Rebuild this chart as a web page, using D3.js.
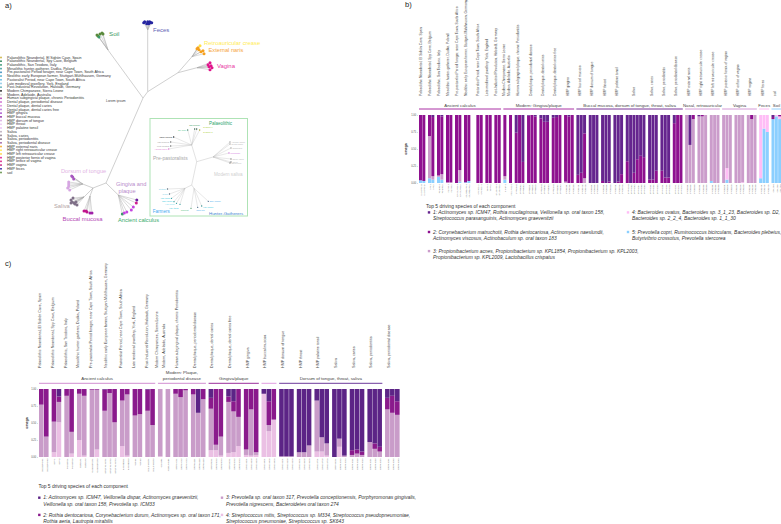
<!DOCTYPE html>
<html><head><meta charset="utf-8">
<script src="https://cdn.jsdelivr.net/npm/d3@7"></script>
<style>html,body{margin:0;background:#fff}svg{display:block;font-family:"Liberation Sans",Arial,sans-serif}</style>
</head><body><svg id="c" width="781" height="524"></svg>
<script>
// ---------- panel a: legend ----------
const sampleNames = ["Palaeolithic Neandertal, El Sidrón Cave, Spain","Palaeolithic Neandertal, Spy Cave, Belgium","Palaeolithic, San Teodoro, Italy","Mesolithic hunter-gatherer, Dudka, Poland","Pre-pastoralist Period forager, near Cape Town, South Africa","Neolithic early European farmer, Stuttgart-Mühlhausen, Germany","Pastoralist Period, near Cape Town, South Africa","Late medieval jewellery, York, England","Post-Industrial Revolution, Halstadt, Germany","Modern Chimpanzee, Sierra Leone","Modern, Adelaide, Australia","Human subgingival plaque, chronic Periodontitis","Dental plaque, periodontal disease","Dental plaque, dental caries","Dental plaque, dental caries free","HMP gingiva","HMP buccal mucosa","HMP dorsum of tongue","HMP throat","HMP palatine tonsil","Saliva","Saliva, caries","Saliva, periodontitis","Saliva, periodontal disease","HMP external naris","HMP right retroauricular crease","HMP left retroauricular crease","HMP posterior fornix of vagina","HMP orifice of vagina","HMP vagina","HMP feces","soil"];
const sampleColors = ["#c9b03a","#1f7a4d","#2a8f6a","#3a9a9a","#2f86b8","#45a9c9","#5cb8e0","#88c8e8","#5aa8b0","#111111","#bdbdbd","#a83aa8","#c95fc9","#d98ad9","#b66fd6","#a445c9","#8a1f9a","#d7a6e0","#ecc9ee","#e8b8f0","#b8a8b8","#8c7c8c","#7a6a7a","#9a5aa0","#f5a623","#ffe84d","#ffd23a","#e0158c","#d81b80","#c01478","#2a2aa0","#5a8a3c"];
const mainLabels = [["Soil","#3f9a63"],["Feces","#5f5fb5"],["Retroauricular crease","#ffec55"],["External naris","#f6a53a"],["Vagina","#e8359f"],["Dorsum of tongue","#e2b4e4"],["Gingiva and","#b88ccb"],["plaque","#b88ccb"],["Saliva","#b3a3a3"],["Buccal mucosa","#b548b5"],["Ancient calculus","#3bab6b"],["Lorem ipsum","#444444"]];
const insetLabels = [["Palaeolithic","#2aa56a"],["Pre-pastoralists","#a8a8a8"],["Modern saliva","#d0d0d0"],["Farmers","#45aaf0"],["Hunter-Gatherers","#3a7fd0"]];
// tip: [dx, dy, colour index in tipColors]
const tipColors = ["#5a8a3c","#2424a0","#f5a01e","#ffe040","#e0158c","#a857c0","#d6a6e2","#7f7088","#c0148c","#a020a8","#6b1fa0","#d02090","#c445e0","#3a9a6a"];
const soilTips = [[-10,-14,0],[-8,-16,0],[-6,-17,0],[-5,-16,0],[-11,-15,0],[-9,-13,13]];
const fecesTips = [[-4,-7,1],[-3,-8,1],[-1,-6,1],[0,-8,1],[1,-6,1],[2,-8,1],[3,-7,1],[4,-7,1]];
const narisTips = [[6,-9,2],[8,-11,3],[11,-6,2],[9,-5,2],[12,-3,2],[7,-7,2],[5,-8,2]];
const vaginaTips = [[11,-3,4],[13,-5,4],[14,-2,4],[15,0,4],[13,2,4],[12,-1,4]];
const dorsumTips = [[-10,-7,5],[-11,-8,5],[-9,-5,5],[-14,-2,6],[-14,0,6],[-14,2,6],[-15,4,6],[-13,6,6]];
const salivaTips = [[-13,3,7],[-12,5,7],[-10,6,7],[-9,7,7],[-7,8,7],[-11,1,7],[-13,6,7],[-8,5,7]];
const buccalTips = [[-6,15,8],[-3,16,8],[0,17,9],[2,17,9],[-4,15,8]];
const gingivaTips = [[18.5,5,10],[18,8,11],[15,12,12],[13,15,12],[8.5,17,12],[4,19,13],[6,18,12]];
// inset tips: [dx, dy, dot colour, label colour, label nudge]
const modernTips = [[17,-15,"#999999","#b5b5b5"],[17,-13,"#999999","#b5b5b5"],[18,-9,"#999999","#b5b5b5"],[16,-4,"#d06fe0","#d06fe0"],[18,2,"#777777","#b5b5b5"],[18,5,"#777777","#b5b5b5"],[17,6,"#777777","#b5b5b5"]];
const recentTips = [[-18,-8,"#111111","#222222"],[-21,-3,"#666666","#999999"],[-21,1,"#666666","#999999"],[-23,4,"#e070d0","#e070d0"]];
const palaeoTips = [[-4,-15,"#3a7a5a","#45c08a"],[3,-16,"#1f4f3a","#2f9a5a",[-7,-4]],[5,-16,"#1f4f3a","#a8cc30",[5,-1.5]],[8,-15,"#a0a020","#a8cc30",[2,2.6]]];
const farmerTips = [[-17.5,0.7,"#556677","#7fd0e8"],[-15.5,5.7,"#556677","#7fd0e8"],[-13.5,10,"#2a9a9a","#30c8e0"],[-11,13.4,"#2a9a9a","#30c8e0"],[-8.5,15,"#2a9a9a","#80e0f0",[0,1]],[-5,16,"#2a9a9a","#30c8e0",[0,4]]];
const hunterTips = [[-3,20,"#4a9a6a","#55c080",[-1,2.5]],[3.7,19,"#446688","#44aaee",[-3,3]],[7.7,17.7,"#2a8a8a","#30c8e0",[0,1.5]],[14.3,13,"#446688","#44aaee"]];
const tipNames = {modern:["Adelaide plaque","Dental plaque","Subgingival","Periodontal","Saliva, caries","Saliva","Saliva perio"],recent:["USMP calculus","Late medieval","Post-Industrial","Adelaide saliva"],palaeo:["Spy Cave","San Teodoro","El Sidrón 1","El Sidrón 2"],farmer:["Stuttgart","Dudka","Late Italian","Early farmer","Late farmer","Late Italian"],hunter:["Oakhurst","Ochre site","Late forager","Early forager"]};

// ---------- panel b ----------
const bSizes = [2,2,2,2,2,2,3,2,2,1,1,3,3,3,3,3,3,3,3,3,6,3,3,3,3,3,3,3,3,3,3,3];
const bPrefix = ["ELSIDRON","SPY","ROMITO","DUDKA","OAKHURST","STUTTGART","KASTEEL","YORK","HALSTADT","CHIMP","ADELAIDE","SRR1001","SRR6612","SRR2901","SRR3301","SRS0130","SRS0140","SRS0150","SRS0160","SRS0170","ERR4101","ERR4102","ERR4103","ERR4104","SRS0180","SRS0190","SRS0200","SRS0210","SRS0220","SRS0230","SRS0240","SOIL00"];
const bHeaders = [["Ancient calculus",0,8,"#a0189a"],["Modern: Gingiva/plaque",9,15,"#a0189a"],["Buccal mucosa, dorsum of tongue, throat, saliva",16,23,"#6a1b8c"],["Nasal, retroauricular",24,26,"#cf8ed3"],["Vagina",27,29,"#cf8ed3"],["Feces",30,30,"#ffb5f5"],["Soil",31,31,"#88ccff"]];
const bValues = [
[0,.96,0,0,.04],[0,.97,0,0,.03],
[0,.31,.62,0,.07],[.03,.87,.05,0,.05],
[0,.89,.02,0,.09],[.02,.85,.08,0,.05],
[0,.99,.01,0,0],[0,.99,.01,0,0],
[0,1,0,0,0],[0,.81,.17,0,.02],
[0,.99,0,0,.01],[0,.97,0,0,.03],
null,[0,1,0,0,0],[0,1,0,0,0],
[0,1,0,0,0],[0,1,0,0,0],
[0,1,0,0,0],[0,1,0,0,0],
[0,.9,.05,0,.05],
[0,1,0,0,0],
[.26,.74,0,0,0],[0,1,0,0,0],[.69,.31,0,0,0],
[.01,.99,0,0,0],[0,1,0,0,0],[.02,.98,0,0,0],
[.05,.95,0,0,0],[.1,.9,0,0,0],[.1,.9,0,0,0],
[.04,.96,0,0,0],[.03,.97,0,0,0],[0,1,0,0,0],
[0,.98,.02,0,0],[.02,.98,0,0,0],[0,1,0,0,0],
[.88,.12,0,0,0],[.85,.15,0,0,0],[.27,.66,.07,0,0],
[1,0,0,0,0],[1,0,0,0,0],[1,0,0,0,0],
[.97,.03,0,0,0],[1,0,0,0,0],[.98,.02,0,0,0],
[1,0,0,0,0],[.98,.02,0,0,0],[.87,.13,0,0,0],
[.68,.32,0,0,0],[1,0,0,0,0],[.85,.15,0,0,0],[.65,.35,0,0,0],[.6,.4,0,0,0],[.62,.38,0,0,0],
[.95,.05,0,0,0],[.95,.05,0,0,0],[.82,.18,0,0,0],
[.82,.18,0,0,0],[.92,.08,0,0,0],[.92,.08,0,0,0],
[.12,.88,0,0,0],[0,1,0,0,0],[0,1,0,0,0],
[0,0,1,0,0],[.44,0,.56,0,0],[0,.06,.94,0,0],
[.02,0,.98,0,0],[0,.02,.98,0,0],[0,0,1,0,0],
[0,0,.97,0,.03],[0,0,1,0,0],[0,0,1,0,0],
[0,0,1,0,0],[0,0,.78,.17,.05],[0,0,1,0,0],
[0,0,1,0,0],[0,0,1,0,0],[0,0,.99,.01,0],
[0,0,1,0,0],[0,.06,.94,0,0],[0,0,1,0,0],
[0,0,0,.93,.07],[0,0,0,.2,.8],[0,0,0,.25,.75],
[.03,.03,0,0,.94],[0,0,0,.02,.98],[0,.02,0,.04,.94]];
const bColors = ["#65258e","#8e108f","#cb9ccb","#ffbdf6","#8bcfff"];
const bLegendTitle = "Top 5 driving species of each component";
const bLegend = [
 [["1: Actinomyces sp. ICM47, Rothia mucilaginosa, Veillonella sp. oral taxon 158,","Streptococcus parasanguinis, Actinomyces graevenitzii"],0],
 [["2: Corynebacterium matruchotii, Rothia dentocariosa, Actinomyces naeslundii,","Actinomyces viscosus, Actinobaculum sp. oral taxon 183"],1],
 [["3: Propionibacterium acnes, Propionibacterium sp. KPL1854, Propionibacterium sp. KPL2003,","Propionibacterium sp. KPL2009, Lactobacillus crispatus"],2],
 [["4: Bacteroides ovatus, Bacteroides sp. 3_1_23, Bacteroides sp. D2,","Bacteroides sp. 2_2_4, Bacteroides sp. 1_1_30"],3],
 [["5: Prevotella copri, Ruminococcus bicirculans, Bacteroides plebeius,","Butyrivibrio crossotus, Prevotella stercorea"],4]];

// ---------- panel c ----------
const cSizes = [2,2,2,2,2,3,2,2,2,1,1,3,3,3,3,3,3,3,3,3,3,3,3,3];
const cPrefix = ["ELSIDRON","SPY","ROMITO","DUDKA","OAKHURST","STUTTGART","KASTEEL","YORK","HALSTADT","CHIMP","ADELAIDE","SRR1001","SRR6612","SRR2901","SRR3301","SRS0130","SRS0140","SRS0150","SRS0160","SRS0170","ERR4101","ERR4102","ERR4103","ERR4104"];
const cHeaders = [[["Ancient calculus"],0,8,"#cc80cc"],[["Modern: Plaque,","periodontal disease"],9,12,"#cc80cc"],[["Gingiva/plaque"],13,15,"#8e1590"],[[""],16,16,"#dc90dc"],[["Dorsum of tongue, throat, saliva"],17,22,"#5c2490"]];
const cValues = [
[0,.23,.77,0],[0,.70,.30,0],
[0,.48,.45,.07],[.11,.08,.30,.51],
[0,.10,.90,0],[0,.63,.32,.05],
[0,.07,.68,.25],[0,.10,.88,.02],
[0,.01,.99,0],[0,.01,.88,.11],
[.01,.31,.68,0],[0,.06,.94,0],[0,.49,.51,0],
[0,.17,.67,.16],[0,.08,.90,.02],
[0,.39,.61,0],[0,.37,.63,0],
[.01,.31,.68,0],[0,.53,.47,0],
[0,0,.99,.01],
[0,0,1,0],
[0,.07,.93,0],[0,.12,.88,0],[0,.02,.98,0],
[0,.08,.92,0],[.35,0,.65,0],[0,.15,.85,0],
[.13,.16,.61,.10],[0,.82,.08,.10],[0,.70,.28,.02],
[.11,.08,.75,.06],[.18,.15,.60,.07],[0,.41,.43,.16],
[0,.89,.08,.03],[0,.30,.68,.02],[0,.93,.04,.03],
[.07,0,0,.93],[.18,.35,.09,.38],[0,.45,0,.55],
[.99,0,.01,0],[.99,0,.01,0],[.99,0,.01,0],
[.93,0,.07,0],[.93,0,.07,0],[.83,0,.17,0],
[.17,0,.75,.08],[.71,0,.21,.08],[.80,0,.18,.02],
[1,0,0,0],[.73,0,.12,.15],[.98,0,.02,0],
[.90,.07,.03,0],[.89,.06,.05,0],[.92,.05,.03,0],
[.78,0,.22,0],[.80,.08,.12,0],[.85,.07,.08,0],
[.13,.17,.70,0],[.10,.25,.65,0],[.18,.20,.62,0]];
const cColors = ["#5c2486","#8a1a8c","#c99cc9","#ebc0e4"];
const cLegendTitle = "Top 5 driving species of each component";
const cLegend = [
 [["1: Actinomyces sp. ICM47, Veillonella dispar, Actinomyces graevenitzii,","Veillonella sp. oral taxon 158, Prevotella sp. ICM33"],0],
 [["2: Rothia dentocariosa, Corynebacterium durum, Actinomyces sp. oral taxon 171,","Rothia aeria, Lautropia mirabilis"],1],
 [["3: Prevotella sp. oral taxon 317, Prevotella conceptionensis, Porphyromonas gingivalis,","Prevotella nigrescens, Bacteroidetes oral taxon 274"],2],
 [["4: Streptococcus mitis, Streptococcus sp. M334, Streptococcus pseudopneumoniae,","Streptococcus pneumoniae, Streptococcus sp. SK643"],3]];
const yTicks = [0,.25,.5,.75,1];

const svg = d3.select("#c");
const txt = (g,x,y,s,size,fill,extra={})=>{const t=g.append("text").attr("x",x).attr("y",y).attr("font-size",size).attr("fill",fill).text(s);for(const k in extra)t.attr(k,extra[k]);return t;};

txt(svg,5,8,"a)",7.5,"#222");
txt(svg,405,7,"b)",7.5,"#222");
txt(svg,5,266,"c)",7.5,"#222");

// legend of panel a
const legY = d3.scalePoint().domain(sampleNames).range([57.5,172.5]);
const gl = svg.append("g");
gl.selectAll("rect").data(sampleNames).join("rect").attr("x",0.2).attr("y",d=>legY(d)-.8).attr("width",1.6).attr("height",1.6).attr("fill",(d,i)=>sampleColors[i]);
gl.selectAll("text").data(sampleNames).join("text").attr("x",7).attr("y",d=>legY(d)+1.1).attr("font-size",3.62).attr("fill","#333").text(d=>d);

// tree helpers
const tips = (arr,names)=>arr.map((t,i)=>({d:[t[0],t[1]],col:typeof t[2]==="number"?tipColors[t[2]]:t[2],labelCol:t[3],nudge:t[4]||[0,0],name:names?names[i]:null,tip:true}));
function drawTree(data,ox,oy,lineCol,lw,r){
  const sx=d3.scaleLinear().domain([0,1]).range([ox,ox+1]), sy=d3.scaleLinear().domain([0,1]).range([oy,oy+1]);
  const root=d3.hierarchy(data,d=>d.c);
  root.eachBefore(n=>{n.tx=(n.parent?n.parent.tx:0)+(n.data.d?n.data.d[0]:0);n.ty=(n.parent?n.parent.ty:0)+(n.data.d?n.data.d[1]:0);});
  const g=svg.append("g");
  g.selectAll("line").data(root.links()).join("line").attr("x1",l=>sx(l.source.tx)).attr("y1",l=>sy(l.source.ty)).attr("x2",l=>sx(l.target.tx)).attr("y2",l=>sy(l.target.ty)).attr("stroke",lineCol).attr("stroke-width",l=>l.target.data.tip?lw*.8:lw);
  const lv=root.leaves();
  g.selectAll("circle").data(lv).join("circle").attr("cx",n=>sx(n.tx)).attr("cy",n=>sy(n.ty)).attr("r",r).attr("fill",n=>n.data.col);
  g.selectAll("text").data(lv.filter(n=>n.data.name)).join("text")
   .attr("x",n=>sx(n.tx)+(n.data.d[0]<0?-1.5:1.5)+n.data.nudge[0]).attr("y",n=>sy(n.ty)+.6+n.data.nudge[1]).attr("font-size",1.9)
   .attr("text-anchor",n=>n.data.d[0]<0?"end":"start").attr("fill",n=>n.data.labelCol).text(n=>n.data.name);
}
const mainTree={c:[
 {d:[-35,-48],c:tips(soilTips)},
 {d:[4.7,-6.3],c:[
   {d:[0,-62],c:tips(fecesTips)},
   {d:[30.3,-19],c:[{d:[14,-16],c:tips(narisTips)},{d:[19,-5],c:tips(vaginaTips)}]}]},
 {d:[-37,85],c:[
   {d:[-13,5],c:[{d:[-10.3,-4],c:tips(dorsumTips)},{d:[-9,9],c:tips(salivaTips)},{d:[-3,8],c:tips(buccalTips)}]},
   {d:[12.3,12],c:tips(gingivaTips)}]}
]};
drawTree(mainTree,143,98,"#a9a9a9",.55,1.5);

// main tree labels
const mainPos=[[109,35.5,6.2],[153,32,6],[204,45,5.9],[208.5,51.5,5.7],[217,68,5.9],[61,173,5.7],[116,186,5.7],[118.5,193,5.7],[54,207.5,5.8],[62.5,220.5,5.9],[118,222,5.7],[106,102,3.4]];
mainLabels.forEach((l,i)=>txt(svg,mainPos[i][0],mainPos[i][1],l[0],mainPos[i][2],l[1]));

// inset
svg.append("rect").attr("x",150).attr("y",118.5).attr("width",97.5).attr("height",97.5).attr("fill","none").attr("stroke","#aee3b5").attr("stroke-width",1);
const insetTree={c:[
 {d:[16.3,-4.7],c:tips(modernTips,tipNames.modern)},
 {d:[-5,-16.7],c:[{d:[0,0],c:tips(recentTips,tipNames.recent)},{d:[0,0],c:tips(palaeoTips,tipNames.palaeo)}]},
 {d:[-5,23.3],c:[{d:[-6.7,3.3],c:tips(farmerTips,tipNames.farmer)},{d:[2.3,3.3],c:tips(hunterTips,tipNames.hunter)}]}
]};
drawTree(insetTree,196.7,161.7,"#b5b5b5",.4,.65);
const insetPos=[[209,125,4.5],[153,160,5],[214,176,4.6],[152.7,212.5,4.6],[209,215,4.4]];
insetLabels.forEach((l,i)=>txt(svg,insetPos[i][0],insetPos[i][1],l[0],insetPos[i][2],l[1]));

// bars panels
function panel(o){
  const nc=o.colors.length, keys=d3.range(nc).reverse();
  const y=d3.scaleLinear().domain([0,1]).range([o.y0,o.y1]);
  const total=d3.sum(o.sizes)+(o.sizes.length-1)*o.gap;
  const x=d3.scaleLinear().domain([0,total]).range([o.x0,o.x1]);
  let idx=0; const bars=[], groupsPos=[];
  o.sizes.forEach((n,g)=>{
    const items=[];
    for(let i=0;i<n;i++){const v=o.values[idx++];const u=bars.length+g*o.gap;const b={id:o.prefix[g]+(i+1),v,u,g};bars.push(b);if(v)items.push(b);}
    groupsPos.push({a:x(items[0].u),b:x(items[items.length-1].u+1)});
  });
  const gb=svg.append("g");
  const rows=bars.filter(b=>b.v).map(b=>{const r={u:b.u};b.v.forEach((val,i)=>r[i]=val);return r;});
  const series=d3.stack().keys(keys)(rows);
  gb.selectAll("g").data(series).join("g").attr("fill",s=>o.colors[s.key])
    .selectAll("rect").data(s=>s.filter(d=>d[1]>d[0])).join("rect")
    .attr("x",d=>x(d.data.u)).attr("width",d=>x(1)-x(0)-o.inner)
    .attr("y",d=>y(d[1])).attr("height",d=>y(d[0])-y(d[1]));
  // y axis
  const ya=svg.append("g").attr("transform",`translate(${o.x0-1},0)`).call(d3.axisLeft(y).tickValues(yTicks).tickFormat(d3.format(".2f")).tickSize(1).tickPadding(.8));
  ya.select(".domain").remove(); ya.selectAll("line").attr("stroke","#888").attr("stroke-width",.3);
  ya.selectAll("text").attr("font-size",2.6).attr("fill","#555").attr("font-family","Liberation Sans");
  txt(svg,0,0,"omega",o.omegaSize,"#333",{"font-weight":"bold","text-anchor":"middle",transform:`translate(${o.omegaX},${(o.y0+o.y1)/2}) rotate(-90)`});
  // sample ticks
  const ord=d3.scaleOrdinal().domain(bars.filter(b=>b.v).map(b=>b.id)).range(bars.filter(b=>b.v).map(b=>x(b.u+.5)));
  const xa=svg.append("g").attr("transform",`translate(0,${o.y0})`).call(d3.axisBottom(ord).tickSize(0).tickPadding(0));
  xa.select(".domain").remove();
  xa.selectAll("text").attr("font-size",o.tickFont).attr("fill","#666").attr("font-family","Liberation Sans").attr("text-anchor","end").attr("dy",0).attr("y",0)
    .attr("transform","translate(.6,1.5) rotate(-90)");
  // group labels
  o.labels.forEach((l,g)=>{const gp=groupsPos[g];const cx=(gp.a+gp.b)/2+o.labelShift;
    txt(svg,0,0,l,o.labelFont,"#444",{transform:`translate(${cx},${o.labelY}) rotate(-90)`});});
  // section headers
  o.headers.forEach(h=>{const a=groupsPos[h[1]].a,b=groupsPos[h[2]].b,cx=(a+b)/2;
    svg.append("line").attr("x1",a).attr("x2",b).attr("y1",o.lineY).attr("y2",o.lineY).attr("stroke",h[3]).attr("stroke-width",.9);
    const lines=Array.isArray(h[0])?h[0]:[h[0]];
    lines.forEach((s,i)=>txt(svg,cx,o.headY-(lines.length-1-i)*6,s,o.headFont,"#444",{"text-anchor":"middle"}));
  });
}
panel({colors:bColors,values:bValues,sizes:bSizes,prefix:bPrefix,labels:sampleNames,headers:bHeaders,gap:.7,inner:.35,x0:419,x1:781.5,y0:183,y1:115,omegaX:407,omegaSize:3.6,tickFont:2,labelY:96,labelFont:3.35,labelShift:-.5,lineY:109,headY:106.6,headFont:4.35});
panel({colors:cColors,values:cValues,sizes:cSizes,prefix:cPrefix,labels:sampleNames.slice(0,24),headers:cHeaders,gap:.54,inner:.4,x0:39,x1:400,y0:457,y1:389,omegaX:27.5,omegaSize:3.6,tickFont:2.3,labelY:368,labelFont:3.65,labelShift:-2.7,lineY:383.3,headY:380,headFont:4.4});

// species legends
function species(title,tx,ty,entries,colors){
  txt(svg,tx,ty,title,4.95,"#333");
  entries.forEach(e=>{
    const c=e.pos;
    svg.append("rect").attr("x",c[0]-5.2).attr("y",c[1]-2.8).attr("width",2.4).attr("height",2.4).attr("fill",colors[e.k]);
    e.lines.forEach((s,i)=>txt(svg,c[0],c[1]+i*6.35,s,4.95,"#333",{"font-style":"italic"}));
  });
}
species(bLegendTitle,426,207.5,[[433,214],[433,233.6],[433,252.7],[632,214],[632,233.6]].map((p,i)=>({pos:p,lines:bLegend[i][0],k:bLegend[i][1]})),bColors);
species(cLegendTitle,38.5,488.3,[[43.3,499.3],[43.3,516.5],[226,499.3],[226,516.5]].map((p,i)=>({pos:p,lines:cLegend[i][0],k:cLegend[i][1]})),cColors);
</script></body></html>
